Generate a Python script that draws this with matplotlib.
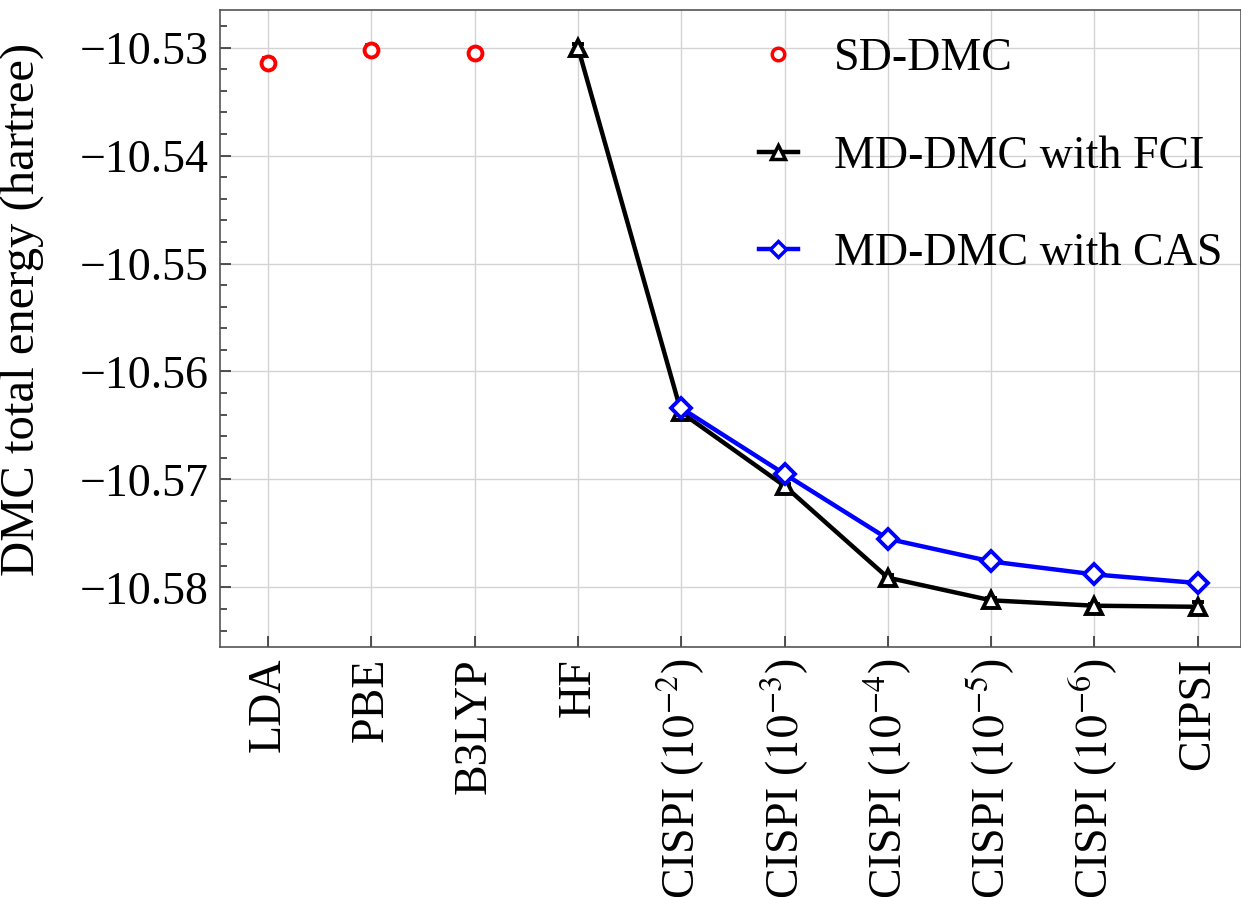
import numpy as np
import matplotlib
matplotlib.use('Agg')
import matplotlib.pyplot as plt
from matplotlib.ticker import MultipleLocator
from matplotlib.lines import Line2D

plt.rcParams['font.family'] = ['Liberation Serif', 'DejaVu Serif']
plt.rcParams['mathtext.fontset'] = 'stix'

# categories along x
labels = ['LDA', 'PBE', 'B3LYP', 'HF',
          r'CISPI ($10^{-2}$)', r'CISPI ($10^{-3}$)', r'CISPI ($10^{-4}$)',
          r'CISPI ($10^{-5}$)', r'CISPI ($10^{-6}$)', 'CIPSI']

# single determinant DMC (LDA, PBE, B3LYP)
sd_x = [0, 1, 2]
sd_e = [-10.5314, -10.5302, -10.5305]
sd_err = [0.0004, 0.0004, 0.0003]

# multi determinant DMC with FCI (HF ... CIPSI)
fci_x = [3, 4, 5, 6, 7, 8, 9]
fci_e = [-10.5300, -10.5638, -10.5706, -10.5791, -10.5812, -10.5817, -10.5818]
fci_err = [0.0003, 0.0002, 0.0002, 0.0002, 0.0002, 0.0002, 0.0004]

# multi determinant DMC with CAS
cas_x = [4, 5, 6, 7, 8, 9]
cas_e = [-10.5634, -10.5695, -10.5755, -10.5776, -10.5788, -10.5796]
cas_err = [0.0002, 0.0002, 0.0004, 0.0002, 0.0004, 0.0005]

fig, ax = plt.subplots(figsize=(12.41, 8.97), dpi=100)

ax.errorbar(sd_x, sd_e, yerr=sd_err, fmt='o', color='red', mfc='white',
            mec='red', ms=10, mew=2.8, capsize=4, elinewidth=2, zorder=3)
ax.errorbar(fci_x, fci_e, yerr=fci_err, fmt='^-', color='black', mfc='white',
            mec='black', ms=12, mew=2.8, lw=3.2, capsize=4, elinewidth=2, zorder=3)
ax.errorbar(cas_x, cas_e, yerr=cas_err, fmt='D-', color='blue', mfc='white',
            mec='blue', ms=10, mew=2.8, lw=3.2, capsize=4, elinewidth=2, zorder=4)

ax.set_xticks(range(len(labels)))
ax.set_xticklabels(labels, rotation=90, fontsize=33)
ax.set_xlim(-0.47, 9.42)
ax.set_ylim(-10.5855, -10.5265)
ax.yaxis.set_major_locator(MultipleLocator(0.01))
ax.yaxis.set_minor_locator(MultipleLocator(0.002))
ax.set_yticklabels([f'{v:.2f}'.replace('-', '\u2212') for v in ax.get_yticks()])
ax.tick_params(axis='y', labelsize=33)
ax.tick_params(direction='in', which='both', top=False, right=False,
               color='#333333')
ax.tick_params(which='major', length=8, width=1.2, pad=8)
ax.tick_params(which='minor', length=5, width=1.2)
ax.tick_params(axis='x', which='minor', bottom=False)
for sp in ax.spines.values():
    sp.set_color('#555555')
    sp.set_linewidth(1.2)
ax.grid(True, color='#d3d3d3', lw=1)
ax.set_axisbelow(True)
ax.set_ylabel('DMC total energy (hartree)', fontsize=35)
ax.yaxis.set_label_coords(-0.172, 0.53)

handles = [
    Line2D([], [], ls='none', marker='o', color='red', mfc='white', ms=9, mew=2.5),
    Line2D([], [], ls='-', marker='^', color='black', mfc='white', ms=10, mew=2.5, lw=3.2),
    Line2D([], [], ls='-', marker='D', color='blue', mfc='white', ms=8, mew=2.5, lw=3.2),
]
names = ['SD-DMC', 'MD-DMC with FCI', 'MD-DMC with CAS']
ax.legend(handles, names, loc='upper right', bbox_to_anchor=(1.0, 0.985),
          fontsize=33, frameon=False,
          labelspacing=1.2, handlelength=0.85, handletextpad=0.8,
          borderaxespad=0.0)

fig.subplots_adjust(left=0.177, right=1.0, top=0.989, bottom=0.279)
fig.savefig('out.png', dpi=100)
